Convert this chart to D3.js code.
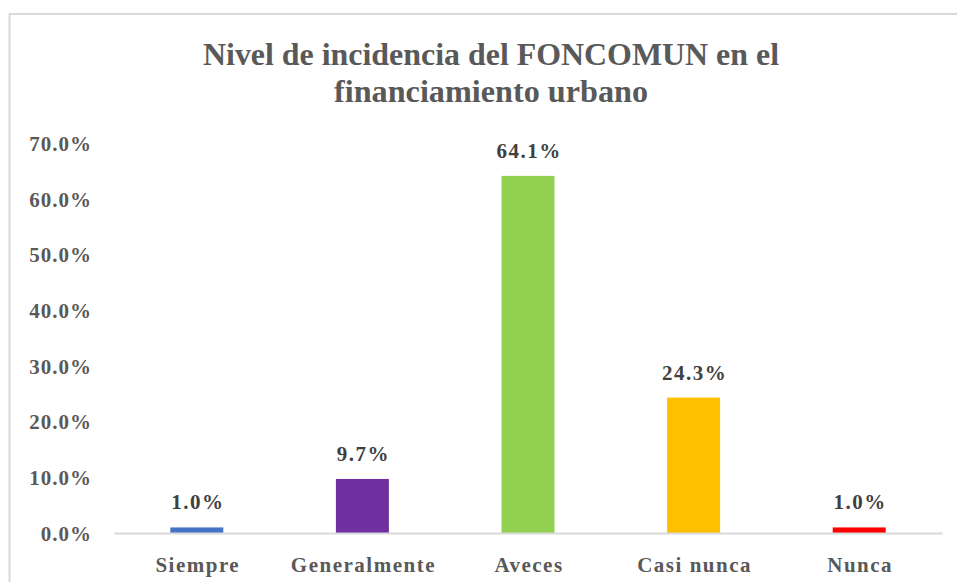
<!DOCTYPE html>
<html>
<head>
<meta charset="utf-8">
<script src="https://cdn.jsdelivr.net/npm/d3@7"></script>
<style>
  html, body { margin: 0; padding: 0; background: #ffffff; }
  svg { display: block; }
</style>
</head>
<body>
<svg id="chart" width="957" height="582"></svg>
<script>
const categories = ["Siempre", "Generalmente", "Aveces", "Casi nunca", "Nunca"];
const values = [0.010, 0.097, 0.641, 0.243, 0.010];
const barColors = ["#4472C4", "#7030A0", "#92D050", "#FFC000", "#FF0000"];
const yTicks = [0, 0.1, 0.2, 0.3, 0.4, 0.5, 0.6, 0.7];
const titleLines = ["Nivel de incidencia del FONCOMUN en el", "financiamiento urbano"];

const svg = d3.select("#chart");
const textColor = "#595959";
const fontFam = "'Liberation Serif', 'Times New Roman', serif";

// outer chart border
svg.append("rect")
  .attr("x", 9.5).attr("y", 14)
  .attr("width", 1200).attr("height", 1200)
  .attr("fill", "#ffffff")
  .attr("stroke", "#d9d9d9").attr("stroke-width", 2);

// title
const titleWidths = [576, 314];
const titleBaselines = [65, 102];
titleLines.forEach((t, i) => {
  svg.append("text")
    .attr("x", 491).attr("y", titleBaselines[i])
    .attr("text-anchor", "middle")
    .attr("font-family", fontFam)
    .attr("font-weight", "bold")
    .attr("font-size", 32)
    .attr("fill", textColor)
    .attr("textLength", titleWidths[i])
    .attr("lengthAdjust", "spacingAndGlyphs")
    .text(t);
});

const x = d3.scaleBand().domain(categories).range([114, 942]).paddingInner(0.68).paddingOuter(0.34);
const y = d3.scaleLinear().domain([0, 0.7]).range([533, 143]);
const fmt = d3.format(".1%");

// y axis labels
const yAxis = svg.append("g")
  .attr("transform", "translate(92,0)")
  .call(d3.axisLeft(y).tickValues(yTicks).tickFormat(fmt).tickSize(0).tickPadding(0));
yAxis.select(".domain").remove();
yAxis.selectAll("text")
  .attr("font-family", fontFam)
  .attr("font-weight", "bold")
  .attr("font-size", 21)
  .attr("letter-spacing", 1)
  .attr("fill", textColor)
  .attr("dy", "0.35em");

// bars
svg.append("g").selectAll("rect")
  .data(values)
  .join("rect")
  .attr("x", (d, i) => x(categories[i]))
  .attr("y", d => y(d))
  .attr("width", x.bandwidth())
  .attr("height", d => y(0) - y(d))
  .attr("fill", (d, i) => barColors[i]);

// x axis line + labels
const xAxis = svg.append("g")
  .attr("transform", "translate(0,533)")
  .call(d3.axisBottom(x).tickSize(0).tickPadding(0));
xAxis.select(".domain")
  .attr("stroke", "#d9d9d9").attr("stroke-width", 2);
xAxis.selectAll("text")
  .attr("font-family", fontFam)
  .attr("font-weight", "bold")
  .attr("font-size", 21)
  .attr("letter-spacing", 1.5)
  .attr("fill", textColor)
  .attr("dy", null)
  .attr("x", 1)
  .attr("y", 39);

// data labels
svg.append("g").selectAll("text")
  .data(values)
  .join("text")
  .attr("x", (d, i) => x(categories[i]) + x.bandwidth() / 2 + 1)
  .attr("y", d => y(d) - 18)
  .attr("text-anchor", "middle")
  .attr("font-family", fontFam)
  .attr("font-weight", "bold")
  .attr("font-size", 21)
  .attr("letter-spacing", 1.5)
  .attr("fill", "#404040")
  .text(d => fmt(d));
</script>
</body>
</html>
